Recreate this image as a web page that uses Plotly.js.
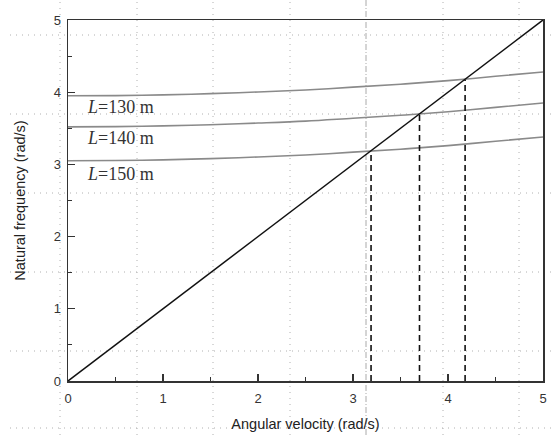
<!DOCTYPE html>
<html><head><meta charset="utf-8">
<script src="https://cdn.plot.ly/plotly-3.0.1.min.js"></script>
<style>html,body{margin:0;padding:0;background:#fff}#plot{width:555px;height:435px}</style>
</head><body><div id="plot"></div>
<script>
// Data
const omega = [0, 0.5, 1, 1.5, 2, 2.5, 3, 3.5, 4, 4.5, 5];
const freqL130 = [3.95, 3.953, 3.963, 3.98, 4.003, 4.03, 4.07, 4.11, 4.16, 4.22, 4.28];
const freqL140 = [3.52, 3.523, 3.533, 3.55, 3.573, 3.60, 3.64, 3.68, 3.73, 3.79, 3.85];
const freqL150 = [3.05, 3.053, 3.063, 3.08, 3.103, 3.13, 3.17, 3.21, 3.26, 3.32, 3.38];
const diagX = [0, 5];
const diagY = [0, 5];
const crossX = [3.19, 3.70, 4.18];
const crossY = [3.18, 3.69, 4.17];
const curveLabels = ["<i>L</i>=130 m", "<i>L</i>=140 m", "<i>L</i>=150 m"];
const labelX = [0.18, 0.18, 0.18];
const labelY = [3.79, 3.36, 2.87];
const xTicks = [0, 1, 2, 3, 4, 5];
const yTicks = [0, 1, 2, 3, 4, 5];

const gray = '#8a8a8a';
const traces = [];
[freqL130, freqL140, freqL150].forEach(f => traces.push({
  x: omega, y: f, mode: 'lines', line: {color: gray, width: 1.6, shape: 'spline'}, hoverinfo: 'skip'
}));
traces.push({x: diagX, y: diagY, mode: 'lines', line: {color: '#111', width: 1.5}});
crossX.forEach((cx, i) => traces.push({
  x: [cx, cx], y: [0, crossY[i]], mode: 'lines', line: {color: '#111', width: 1.6, dash: '6px,4px'}
}));

const annotations = curveLabels.map((t, i) => ({
  x: labelX[i], y: labelY[i], xref: 'x', yref: 'y', text: t, showarrow: false,
  xanchor: 'left', yanchor: 'middle',
  font: {family: 'Liberation Serif, Times New Roman, serif', size: 18, color: '#333'}
}));

// decorative dotted page-grid overlay seen in the reference (pixel positions -> paper)
const L = 68, T = 20, W = 475, H = 361;
const px = v => (v - L) / W, py = v => (T + H - v) / H;
const dotLine = {color: '#b0b0b0', width: 1, dash: '1px,5px'};
const shapes = [];
[60, 137, 213, 290, 443, 519].forEach(v => shapes.push({
  type: 'line', xref: 'paper', yref: 'paper', x0: px(v), x1: px(v), y0: py(435), y1: py(0),
  line: dotLine, layer: 'below'
}));
shapes.push({type: 'line', xref: 'paper', yref: 'paper', x0: px(366), x1: px(366), y0: py(435), y1: py(0),
  line: {color: '#aaa', width: 1, dash: '6px,2px,1px,2px'}, layer: 'below'});
[35, 114, 193, 272, 351, 428].forEach(v => shapes.push({
  type: 'line', xref: 'paper', yref: 'paper', x0: px(10), x1: px(555), y0: py(v), y1: py(v),
  line: dotLine, layer: 'below'
}));

const axisCommon = {
  range: [0, 5], showgrid: false, zeroline: false, showline: true, mirror: true,
  linecolor: '#333', linewidth: 1.5, ticks: 'inside', ticklen: 7, tickwidth: 1.3, tickcolor: '#333',
  tickfont: {family: 'Liberation Sans, Arial, sans-serif', size: 13, color: '#333'},
  minor: {dtick: 0.5, ticks: 'inside', ticklen: 4, tickcolor: '#333', tickwidth: 1.2, showgrid: false}
};

const layout = {
  width: 555, height: 435,
  margin: {l: L, r: 555 - L - W, t: T, b: 435 - T - H},
  paper_bgcolor: '#fff', plot_bgcolor: 'rgba(0,0,0,0)',
  showlegend: false,
  xaxis: Object.assign({}, axisCommon, {tickvals: xTicks, ticklabelstandoff: 5,
    title: {text: 'Angular velocity (rad/s)', standoff: 14,
      font: {family: 'Liberation Sans, Arial, sans-serif', size: 14.5, color: '#222'}}}),
  yaxis: Object.assign({}, axisCommon, {tickvals: yTicks, ticklabelstandoff: 3,
    title: {text: 'Natural frequency (rad/s)', standoff: 24,
      font: {family: 'Liberation Sans, Arial, sans-serif', size: 14.5, color: '#222'}}}),
  annotations: annotations,
  shapes: shapes
};

Plotly.newPlot('plot', traces, layout, {displayModeBar: false, staticPlot: true});
</script>
</body></html>
